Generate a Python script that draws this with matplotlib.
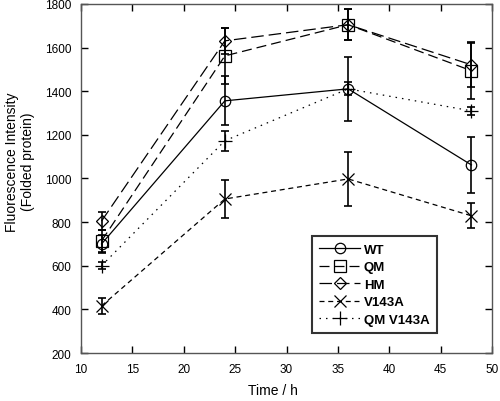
import matplotlib
matplotlib.use("Agg")
import matplotlib.pyplot as plt

plt.rcParams['font.family'] = ['Liberation Sans', 'DejaVu Sans']

time_h = [12, 24, 36, 48]
wt = [700, 1356, 1411, 1062]
wt_err = [40, 112, 147, 130]
qm = [714, 1562, 1705, 1494]
qm_err = [50, 130, 70, 130]
hm = [805, 1631, 1705, 1521]
hm_err = [40, 60, 70, 100]
v143a = [416, 906, 998, 829]
v143a_err = [37, 87, 122, 57]
qm_v143a = [600, 1173, 1411, 1310]
qm_v143a_err = [15, 45, 30, 18]

labels = ['WT', 'QM', 'HM', 'V143A', 'QM V143A']
series = [wt, qm, hm, v143a, qm_v143a]
errors = [wt_err, qm_err, hm_err, v143a_err, qm_v143a_err]
markers = ['o', 's', 'D', 'x', '+']
msizes = [7.5, 8, 6.5, 9, 10]
styles = ['-', (0, (8, 4)), (0, (10, 4)), (0, (4, 3)), (0, (1.2, 4))]

fig = plt.figure(figsize=(5.0, 4.02), dpi=100)
ax = fig.add_axes([0.162, 0.1194, 0.822, 0.8682])

handles = []
for y, e, lab, m, ms, ls in zip(series, errors, labels, markers, msizes, styles):
    ax.errorbar(time_h, y, yerr=e, fmt='none', ecolor='black',
                elinewidth=1.2, capsize=3, capthick=1.2)
    ln, = ax.plot(time_h, y, color='black', linestyle=ls, linewidth=0.9,
                  marker=m, markersize=ms, markerfacecolor='none',
                  markeredgecolor='black', markeredgewidth=0.9, label=lab)
    handles.append(ln)

ax.set_xlim(10, 50)
ax.set_ylim(200, 1800)
ax.set_xticks(range(10, 51, 5))
ax.set_yticks(range(200, 1801, 200))
ax.tick_params(direction='in', top=True, right=True, length=5, width=1,
               labelsize=8.5, colors='black', pad=7)
for s in ax.spines.values():
    s.set_linewidth(1.0)
    s.set_color('#555555')

ax.set_xlabel('Time / h', fontsize=10)
ax.xaxis.set_label_coords(0.467, -0.085)
ax.set_ylabel('Fluorescence Intensity\n(Folded protein)', fontsize=10,
              linespacing=1.15)
ax.yaxis.set_label_coords(-0.112, 0.55)

leg = ax.legend(handles=handles, loc='lower right', bbox_to_anchor=(0.866, 0.057),
                borderaxespad=0, prop={'weight': 'bold', 'size': 9.5},
                frameon=True, fancybox=False, edgecolor='black', handlelength=3.1,
                handletextpad=0.3, borderpad=0.55, labelspacing=0.4)
leg.get_frame().set_linewidth(1.5)

fig.savefig('out.png', dpi=100)
